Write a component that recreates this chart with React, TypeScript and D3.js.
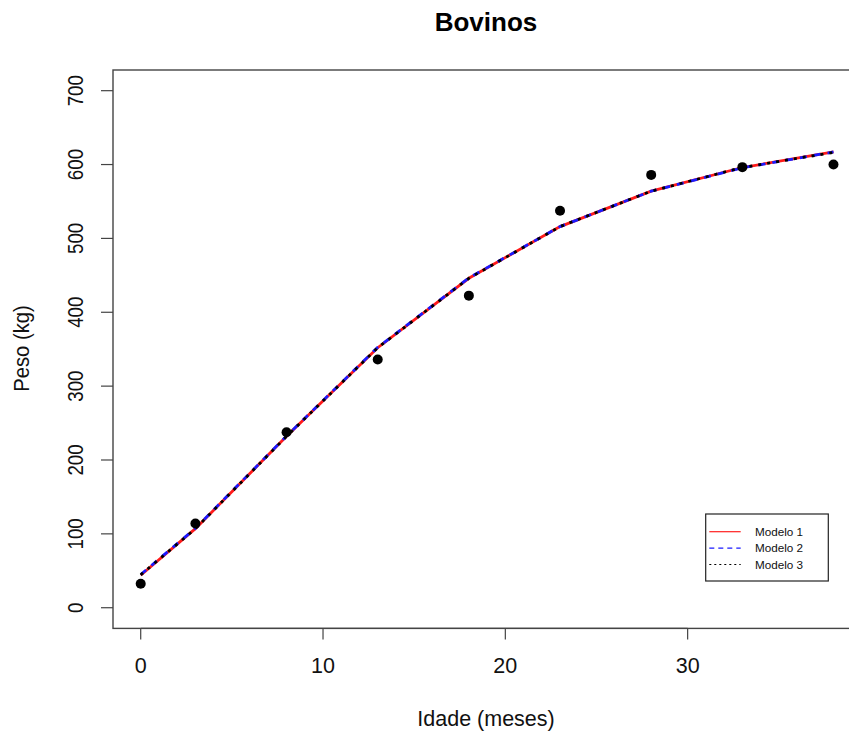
import React from "react";
import * as d3 from "d3";

const idade = [0, 3, 8, 13, 18, 23, 28, 33, 38];
const pesoObs = [32.5, 114, 237.5, 336, 422.5, 537.5, 586, 596.5, 600];
const modelo1 = [44, 107, 232, 352, 446, 516, 564, 596, 617];
const modelo2 = [45, 107.5, 232.5, 352.5, 446.5, 516, 564, 595.5, 617];
const modelo3 = [44.5, 107, 232, 352, 446, 516, 564, 596, 616.5];
const xTicks = [0, 10, 20, 30];
const yTicks = [0, 100, 200, 300, 400, 500, 600, 700];
const legendLabels = ["Modelo 1", "Modelo 2", "Modelo 3"];

const W = 849;
const H = 733;

export default function App() {
  const x = d3.scaleLinear().domain([-1.52, 39.52]).range([113.0, 861.2]);
  const y = d3.scaleLinear().domain([-28, 728]).range([628.4, 70]);
  const line = d3
    .line<[number, number]>()
    .x((d) => x(d[0]))
    .y((d) => y(d[1]));
  const mk = (vals: number[]) => line(idade.map((a, i) => [a, vals[i]] as [number, number])) || "";

  const font = "Arial, 'Liberation Sans', Helvetica, sans-serif";
  const axisColor = "#444";
  const legend = [
    { label: legendLabels[0], color: "#ff2020", dash: "none" },
    { label: legendLabels[1], color: "#1a1aff", dash: "5,4" },
    { label: legendLabels[2], color: "#000", dash: "2,3" },
  ];

  return (
    <svg
      width={W}
      height={H}
      style={{ position: "absolute", left: 0, top: 0, background: "#fff" }}
      fontFamily={font}
    >
      <rect x={0} y={0} width={W} height={H} fill="#fff" />
      {/* plot box */}
      <rect
        x={x(-1.52)}
        y={y(728)}
        width={x(39.52) - x(-1.52)}
        height={y(-28) - y(728)}
        fill="none"
        stroke={axisColor}
        strokeWidth={1.4}
      />
      {/* x axis */}
      <line x1={x(0)} x2={x(30)} y1={y(-28)} y2={y(-28)} stroke={axisColor} strokeWidth={1.2} />
      {xTicks.map((t) => (
        <g key={"x" + t}>
          <line x1={x(t)} x2={x(t)} y1={y(-28)} y2={y(-28) + 11} stroke={axisColor} strokeWidth={1.2} />
          <text x={x(t)} y={673} textAnchor="middle" fontSize={21.5} fill="#111">
            {t}
          </text>
        </g>
      ))}
      {/* y axis */}
      {yTicks.map((t) => (
        <g key={"y" + t}>
          <line x1={x(-1.52) - 12} x2={x(-1.52)} y1={y(t)} y2={y(t)} stroke={axisColor} strokeWidth={1.2} />
          <text
            transform={`translate(83,${y(t)}) scale(1,0.85) rotate(-90)`}
            textAnchor="middle"
            fontSize={22}
            fill="#111"
          >
            {t}
          </text>
        </g>
      ))}
      {/* titles */}
      <text x={486} y={31} textAnchor="middle" fontSize={26} fontWeight="bold" fill="#000">
        Bovinos
      </text>
      <text x={486} y={726} textAnchor="middle" fontSize={21.5} fill="#111">
        Idade (meses)
      </text>
      <text
        transform={`translate(29,348.5) scale(1,0.92) rotate(-90)`}
        textAnchor="middle"
        fontSize={22}
        fill="#111"
      >
        Peso (kg)
      </text>
      {/* model lines */}
      <path d={mk(modelo1)} fill="none" stroke="#ff1a1a" strokeWidth={2.8} />
      <path d={mk(modelo2)} fill="none" stroke="#1a1aff" strokeWidth={2.8} strokeDasharray="7,7" />
      <path d={mk(modelo3)} fill="none" stroke="#000" strokeWidth={2.8} strokeDasharray="3,6" />
      {/* observed points */}
      {idade.map((a, i) => (
        <circle key={"p" + i} cx={x(a)} cy={y(pesoObs[i])} r={5} fill="#000" />
      ))}
      {/* legend */}
      <rect x={705.7} y={514} width={122.6} height={67} fill="#fff" stroke="#222" strokeWidth={1.2} />
      {legend.map((l, i) => {
        const cy = 531.7 + i * 16.4;
        return (
          <g key={"l" + i}>
            <line
              x1={709.3}
              x2={740.7}
              y1={cy}
              y2={cy}
              stroke={l.color}
              strokeWidth={1.2}
              strokeDasharray={l.dash}
            />
            <text x={755} y={cy + 4} fontSize={11.7} fill="#111">
              {l.label}
            </text>
          </g>
        );
      })}
    </svg>
  );
}
